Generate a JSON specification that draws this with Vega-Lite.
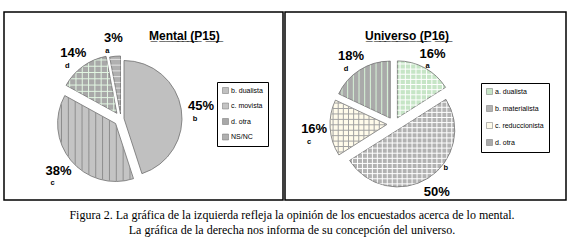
{
  "$schema": "https://vega.github.io/schema/vega-lite/v6.json",
  "background": "white",
  "padding": {"left": 3, "top": 11, "right": 0, "bottom": 0},
  "config": {"view": {"stroke": null}, "concat": {"spacing": 0}},
  "title": {
    "text": ["Figura 2. La gráfica de la izquierda refleja la opinión de los encuestados acerca de lo mental.", "La gráfica de la derecha nos informa de su concepción del universo."],
    "orient": "bottom", "anchor": "middle", "font": "Liberation Serif", "fontSize": 12, "dx": 7,
    "fontWeight": "normal", "lineHeight": 15, "offset": 2, "color": "black"
  },
  "resolve": {"scale": {"color": "independent", "theta": "independent"}, "legend": {"color": "independent"}},
  "hconcat": [
    {
      "width": 279, "height": 188,
      "view": {"stroke": "black", "strokeWidth": 1.5},
      "title": {"text": "M\u0332e\u0332n\u0332t\u0332a\u0332l\u0332 \u0332(\u0332P\u03321\u03325\u0332)\u0332", "anchor": "start", "dx": 145, "offset": -40, "baseline": "alphabetic",
        "font": "Liberation Sans", "fontSize": 12, "fontWeight": "bold", "color": "black"},
      "data": {"values": [
        {"k": "b. dualista", "lab": "b", "pct": 45, "txt": "45%", "o": 1},
        {"k": "c. movista", "lab": "c", "pct": 38, "txt": "38%", "o": 2},
        {"k": "d. otra", "lab": "d", "pct": 14, "txt": "14%", "o": 3},
        {"k": "NS/NC", "lab": "a", "pct": 3, "txt": "3%", "o": 4}
      ]},
      "transform": [{"stack": "pct", "groupby": [], "sort": [{"field": "o"}], "as": ["t0", "t1"]}],
      "layer": [
        {
          "transform": [{"filter": "datum.lab == 'b'"}],
          "mark": {"type": "arc", "radius": 58, "stroke": "#707070", "strokeWidth": 0.8, "xOffset": -19.5, "yOffset": 12.5},
          "encoding": {
            "theta": {"field": "t0", "type": "quantitative", "stack": null, "scale": {"domain": [0, 100]}},
            "theta2": {"field": "t1"},
            "color": {"field": "k", "type": "nominal",
              "scale": {"domain": ["b. dualista", "c. movista", "d. otra", "NS/NC"], "range": ["#c0c0c0", "#c4c4c4", "#a8a8a8", "#b0b0b0"]},
              "legend": {"orient": "none", "legendX": 213, "legendY": 70, "title": null, "strokeColor": "black",
                "padding": 5, "symbolType": "square", "symbolSize": 36, "symbolStrokeColor": "#777", "symbolStrokeWidth": 0.5,
                "labelFont": "Liberation Sans", "labelFontSize": 7, "labelColor": "black", "rowPadding": 6.5, "labelOffset": 2, "fillColor": "white"}}
          }
        },
        {
          "transform": [{"filter": "datum.lab == 'c'"}],
          "mark": {"type": "arc", "radius": 58, "stroke": "#707070", "strokeWidth": 0.8, "xOffset": -27.9, "yOffset": 17.5},
          "encoding": {
            "theta": {"field": "t0", "type": "quantitative", "stack": null},
            "theta2": {"field": "t1"},
            "color": {"field": "k", "type": "nominal"}
          }
        },
        {
          "transform": [{"filter": "datum.lab == 'd'"}],
          "mark": {"type": "arc", "radius": 58, "stroke": "#707070", "strokeWidth": 0.8, "xOffset": -26.6, "yOffset": 7.3},
          "encoding": {
            "theta": {"field": "t0", "type": "quantitative", "stack": null},
            "theta2": {"field": "t1"},
            "color": {"field": "k", "type": "nominal"}
          }
        },
        {
          "transform": [{"filter": "datum.lab == 'a'"}],
          "mark": {"type": "arc", "radius": 58, "stroke": "#707070", "strokeWidth": 0.8, "xOffset": -23, "yOffset": 8},
          "encoding": {
            "theta": {"field": "t0", "type": "quantitative", "stack": null},
            "theta2": {"field": "t1"},
            "color": {"field": "k", "type": "nominal"}
          }
        },
        {
          "transform": [{"filter": "datum.lab == 'c'"}],
          "mark": {"type": "arc", "radius": 57.5, "xOffset": -27.9, "yOffset": 17.5,
            "fill": {"gradient": "linear", "x1": 0, "y1": 0, "x2": 1, "y2": 0, "stops": [
              {"offset": 0.032, "color": "rgba(140,140,140,0)"}, {"offset": 0.045, "color": "#8c8c8c"}, {"offset": 0.058, "color": "rgba(140,140,140,0)"},
              {"offset": 0.123, "color": "rgba(140,140,140,0)"}, {"offset": 0.136, "color": "#8c8c8c"}, {"offset": 0.149, "color": "rgba(140,140,140,0)"},
              {"offset": 0.214, "color": "rgba(140,140,140,0)"}, {"offset": 0.227, "color": "#8c8c8c"}, {"offset": 0.240, "color": "rgba(140,140,140,0)"},
              {"offset": 0.305, "color": "rgba(140,140,140,0)"}, {"offset": 0.318, "color": "#8c8c8c"}, {"offset": 0.331, "color": "rgba(140,140,140,0)"},
              {"offset": 0.396, "color": "rgba(140,140,140,0)"}, {"offset": 0.409, "color": "#8c8c8c"}, {"offset": 0.422, "color": "rgba(140,140,140,0)"},
              {"offset": 0.487, "color": "rgba(140,140,140,0)"}, {"offset": 0.5, "color": "#8c8c8c"}, {"offset": 0.513, "color": "rgba(140,140,140,0)"},
              {"offset": 0.578, "color": "rgba(140,140,140,0)"}, {"offset": 0.591, "color": "#8c8c8c"}, {"offset": 0.604, "color": "rgba(140,140,140,0)"},
              {"offset": 0.669, "color": "rgba(140,140,140,0)"}, {"offset": 0.682, "color": "#8c8c8c"}, {"offset": 0.695, "color": "rgba(140,140,140,0)"},
              {"offset": 0.760, "color": "rgba(140,140,140,0)"}, {"offset": 0.773, "color": "#8c8c8c"}, {"offset": 0.786, "color": "rgba(140,140,140,0)"},
              {"offset": 0.851, "color": "rgba(140,140,140,0)"}, {"offset": 0.864, "color": "#8c8c8c"}, {"offset": 0.877, "color": "rgba(140,140,140,0)"},
              {"offset": 0.942, "color": "rgba(140,140,140,0)"}, {"offset": 0.955, "color": "#8c8c8c"}, {"offset": 0.968, "color": "rgba(140,140,140,0)"}
            ]}},
          "encoding": {"theta": {"field": "t0", "type": "quantitative", "stack": null}, "theta2": {"field": "t1"}}
        },
        {
          "transform": [{"filter": "datum.lab == 'd'"}],
          "mark": {"type": "arc", "radius": 57.5, "xOffset": -26.6, "yOffset": 7.3,
            "fill": {"gradient": "linear", "x1": 0, "y1": 0, "x2": 1, "y2": 0, "stops": [
              {"offset": 0.0425, "color": "rgba(226,246,226,0)"}, {"offset": 0.0625, "color": "#e2f6e2"}, {"offset": 0.0825, "color": "rgba(226,246,226,0)"},
              {"offset": 0.1675, "color": "rgba(226,246,226,0)"}, {"offset": 0.1875, "color": "#e2f6e2"}, {"offset": 0.2075, "color": "rgba(226,246,226,0)"},
              {"offset": 0.2925, "color": "rgba(226,246,226,0)"}, {"offset": 0.3125, "color": "#e2f6e2"}, {"offset": 0.3325, "color": "rgba(226,246,226,0)"},
              {"offset": 0.4175, "color": "rgba(226,246,226,0)"}, {"offset": 0.4375, "color": "#e2f6e2"}, {"offset": 0.4575, "color": "rgba(226,246,226,0)"},
              {"offset": 0.5425, "color": "rgba(226,246,226,0)"}, {"offset": 0.5625, "color": "#e2f6e2"}, {"offset": 0.5825, "color": "rgba(226,246,226,0)"},
              {"offset": 0.6675, "color": "rgba(226,246,226,0)"}, {"offset": 0.6875, "color": "#e2f6e2"}, {"offset": 0.7075, "color": "rgba(226,246,226,0)"},
              {"offset": 0.7925, "color": "rgba(226,246,226,0)"}, {"offset": 0.8125, "color": "#e2f6e2"}, {"offset": 0.8325, "color": "rgba(226,246,226,0)"},
              {"offset": 0.9175, "color": "rgba(226,246,226,0)"}, {"offset": 0.9375, "color": "#e2f6e2"}, {"offset": 0.9575, "color": "rgba(226,246,226,0)"}
            ]}},
          "encoding": {"theta": {"field": "t0", "type": "quantitative", "stack": null}, "theta2": {"field": "t1"}}
        },
        {
          "transform": [{"filter": "datum.lab == 'd'"}],
          "mark": {"type": "arc", "radius": 57.5, "xOffset": -26.6, "yOffset": 7.3,
            "fill": {"gradient": "linear", "x1": 0, "y1": 0, "x2": 0, "y2": 1, "stops": [
              {"offset": 0.038, "color": "rgba(226,246,226,0)"}, {"offset": 0.0556, "color": "#e2f6e2"}, {"offset": 0.073, "color": "rgba(226,246,226,0)"},
              {"offset": 0.149, "color": "rgba(226,246,226,0)"}, {"offset": 0.1667, "color": "#e2f6e2"}, {"offset": 0.184, "color": "rgba(226,246,226,0)"},
              {"offset": 0.260, "color": "rgba(226,246,226,0)"}, {"offset": 0.2778, "color": "#e2f6e2"}, {"offset": 0.295, "color": "rgba(226,246,226,0)"},
              {"offset": 0.371, "color": "rgba(226,246,226,0)"}, {"offset": 0.3889, "color": "#e2f6e2"}, {"offset": 0.406, "color": "rgba(226,246,226,0)"},
              {"offset": 0.4825, "color": "rgba(226,246,226,0)"}, {"offset": 0.5, "color": "#e2f6e2"}, {"offset": 0.5175, "color": "rgba(226,246,226,0)"},
              {"offset": 0.594, "color": "rgba(226,246,226,0)"}, {"offset": 0.6111, "color": "#e2f6e2"}, {"offset": 0.629, "color": "rgba(226,246,226,0)"},
              {"offset": 0.705, "color": "rgba(226,246,226,0)"}, {"offset": 0.7222, "color": "#e2f6e2"}, {"offset": 0.740, "color": "rgba(226,246,226,0)"},
              {"offset": 0.816, "color": "rgba(226,246,226,0)"}, {"offset": 0.8333, "color": "#e2f6e2"}, {"offset": 0.851, "color": "rgba(226,246,226,0)"},
              {"offset": 0.927, "color": "rgba(226,246,226,0)"}, {"offset": 0.9444, "color": "#e2f6e2"}, {"offset": 0.962, "color": "rgba(226,246,226,0)"}
            ]}},
          "encoding": {"theta": {"field": "t0", "type": "quantitative", "stack": null}, "theta2": {"field": "t1"}}
        },
        {
          "transform": [{"filter": "datum.lab == 'a'"}],
          "mark": {"type": "arc", "radius": 57.5, "xOffset": -23, "yOffset": 8,
            "fill": {"gradient": "linear", "x1": 0, "y1": 0, "x2": 0, "y2": 1, "stops": [
              {"offset": 0.033, "color": "rgba(228,228,228,0)"}, {"offset": 0.05, "color": "#e4e4e4"}, {"offset": 0.067, "color": "rgba(228,228,228,0)"},
              {"offset": 0.133, "color": "rgba(228,228,228,0)"}, {"offset": 0.15, "color": "#e4e4e4"}, {"offset": 0.167, "color": "rgba(228,228,228,0)"},
              {"offset": 0.233, "color": "rgba(228,228,228,0)"}, {"offset": 0.25, "color": "#e4e4e4"}, {"offset": 0.267, "color": "rgba(228,228,228,0)"},
              {"offset": 0.333, "color": "rgba(228,228,228,0)"}, {"offset": 0.35, "color": "#e4e4e4"}, {"offset": 0.367, "color": "rgba(228,228,228,0)"},
              {"offset": 0.433, "color": "rgba(228,228,228,0)"}, {"offset": 0.45, "color": "#e4e4e4"}, {"offset": 0.467, "color": "rgba(228,228,228,0)"},
              {"offset": 0.533, "color": "rgba(228,228,228,0)"}, {"offset": 0.55, "color": "#e4e4e4"}, {"offset": 0.567, "color": "rgba(228,228,228,0)"},
              {"offset": 0.633, "color": "rgba(228,228,228,0)"}, {"offset": 0.65, "color": "#e4e4e4"}, {"offset": 0.667, "color": "rgba(228,228,228,0)"},
              {"offset": 0.733, "color": "rgba(228,228,228,0)"}, {"offset": 0.75, "color": "#e4e4e4"}, {"offset": 0.767, "color": "rgba(228,228,228,0)"},
              {"offset": 0.833, "color": "rgba(228,228,228,0)"}, {"offset": 0.85, "color": "#e4e4e4"}, {"offset": 0.867, "color": "rgba(228,228,228,0)"},
              {"offset": 0.933, "color": "rgba(228,228,228,0)"}, {"offset": 0.95, "color": "#e4e4e4"}, {"offset": 0.967, "color": "rgba(228,228,228,0)"}
            ]}},
          "encoding": {"theta": {"field": "t0", "type": "quantitative", "stack": null}, "theta2": {"field": "t1"}}
        },
        {
          "mark": {"type": "text", "radius": 81, "xOffset": -22.5, "yOffset": 13, "font": "Liberation Sans", "fontSize": 13, "fontWeight": "bold", "color": "black"},
          "encoding": {
            "theta": {"field": "pct", "type": "quantitative", "stack": true},
            "order": {"field": "o", "type": "quantitative"},
            "detail": {"field": "k", "type": "nominal"},
            "text": {"field": "txt", "type": "nominal"}
          }
        },
        {
          "mark": {"type": "text", "radius": 81, "xOffset": -22.5, "yOffset": 13, "dx": -6, "dy": 12.5, "font": "Liberation Sans", "fontSize": 7.5, "fontWeight": "bold", "color": "black"},
          "encoding": {
            "theta": {"field": "pct", "type": "quantitative", "stack": true},
            "order": {"field": "o", "type": "quantitative"},
            "detail": {"field": "k", "type": "nominal"},
            "text": {"field": "lab", "type": "nominal"}
          }
        }
      ]
    },
    {
      "width": 281, "height": 188,
      "view": {"stroke": "black", "strokeWidth": 1.5},
      "title": {"text": "U\u0332n\u0332i\u0332v\u0332e\u0332r\u0332s\u0332o\u0332 \u0332(\u0332P\u03321\u03326\u0332)\u0332", "anchor": "start", "dx": 80, "offset": -40, "baseline": "alphabetic",
        "font": "Liberation Sans", "fontSize": 12, "fontWeight": "bold", "color": "black"},
      "data": {"values": [
        {"k": "a. dualista", "lab": "a", "pct": 16, "txt": "16%", "o": 1},
        {"k": "b. materialista", "lab": "b", "pct": 50, "txt": "50%", "o": 2},
        {"k": "c. reduccionista", "lab": "c", "pct": 16, "txt": "16%", "o": 3},
        {"k": "d. otra", "lab": "d", "pct": 18, "txt": "18%", "o": 4}
      ]},
      "transform": [{"stack": "pct", "groupby": [], "sort": [{"field": "o"}], "as": ["t0", "t1"]}],
      "layer": [
        {
          "transform": [{"filter": "datum.lab == 'a'"}],
          "mark": {"type": "arc", "radius": 57, "stroke": "#707070", "strokeWidth": 0.8, "xOffset": -28.1, "yOffset": 11.9},
          "encoding": {
            "theta": {"field": "t0", "type": "quantitative", "stack": null, "scale": {"domain": [0, 100]}},
            "theta2": {"field": "t1"},
            "color": {"field": "k", "type": "nominal",
              "scale": {"domain": ["a. dualista", "b. materialista", "c. reduccionista", "d. otra"], "range": ["#c6e5c6", "#b2b2b2", "#fffbea", "#aaaaaa"]},
              "legend": {"orient": "none", "legendX": 196, "legendY": 71, "title": null, "strokeColor": "black",
                "padding": 5, "symbolType": "square", "symbolSize": 36, "symbolStrokeColor": "#777", "symbolStrokeWidth": 0.5,
                "labelFont": "Liberation Sans", "labelFontSize": 7, "labelColor": "black", "rowPadding": 8, "labelOffset": 2, "fillColor": "white"}}
          }
        },
        {
          "transform": [{"filter": "datum.lab == 'b'"}],
          "mark": {"type": "arc", "radius": 57, "stroke": "#707070", "strokeWidth": 0.8, "xOffset": -27.75, "yOffset": 23.9},
          "encoding": {
            "theta": {"field": "t0", "type": "quantitative", "stack": null},
            "theta2": {"field": "t1"},
            "color": {"field": "k", "type": "nominal"}
          }
        },
        {
          "transform": [{"filter": "datum.lab == 'c'"}],
          "mark": {"type": "arc", "radius": 57, "stroke": "#707070", "strokeWidth": 0.8, "xOffset": -38.5, "yOffset": 18.4},
          "encoding": {
            "theta": {"field": "t0", "type": "quantitative", "stack": null},
            "theta2": {"field": "t1"},
            "color": {"field": "k", "type": "nominal"}
          }
        },
        {
          "transform": [{"filter": "datum.lab == 'd'"}],
          "mark": {"type": "arc", "radius": 57, "stroke": "#707070", "strokeWidth": 0.8, "xOffset": -35.25, "yOffset": 12.1},
          "encoding": {
            "theta": {"field": "t0", "type": "quantitative", "stack": null},
            "theta2": {"field": "t1"},
            "color": {"field": "k", "type": "nominal"}
          }
        },
        {
          "transform": [{"filter": "datum.lab == 'a'"}],
          "mark": {"type": "arc", "radius": 56.5, "xOffset": -28.1, "yOffset": 11.9,
            "fill": {"gradient": "linear", "x1": 0, "y1": 0, "x2": 1, "y2": 0, "stops": [
              {"offset": 0.035, "color": "rgba(255,255,255,0)"}, {"offset": 0.0556, "color": "#ffffff"}, {"offset": 0.077, "color": "rgba(255,255,255,0)"},
              {"offset": 0.146, "color": "rgba(255,255,255,0)"}, {"offset": 0.1667, "color": "#ffffff"}, {"offset": 0.188, "color": "rgba(255,255,255,0)"},
              {"offset": 0.257, "color": "rgba(255,255,255,0)"}, {"offset": 0.2778, "color": "#ffffff"}, {"offset": 0.299, "color": "rgba(255,255,255,0)"},
              {"offset": 0.368, "color": "rgba(255,255,255,0)"}, {"offset": 0.3889, "color": "#ffffff"}, {"offset": 0.410, "color": "rgba(255,255,255,0)"},
              {"offset": 0.479, "color": "rgba(255,255,255,0)"}, {"offset": 0.5, "color": "#ffffff"}, {"offset": 0.521, "color": "rgba(255,255,255,0)"},
              {"offset": 0.590, "color": "rgba(255,255,255,0)"}, {"offset": 0.6111, "color": "#ffffff"}, {"offset": 0.632, "color": "rgba(255,255,255,0)"},
              {"offset": 0.701, "color": "rgba(255,255,255,0)"}, {"offset": 0.7222, "color": "#ffffff"}, {"offset": 0.743, "color": "rgba(255,255,255,0)"},
              {"offset": 0.812, "color": "rgba(255,255,255,0)"}, {"offset": 0.8333, "color": "#ffffff"}, {"offset": 0.854, "color": "rgba(255,255,255,0)"},
              {"offset": 0.923, "color": "rgba(255,255,255,0)"}, {"offset": 0.9444, "color": "#ffffff"}, {"offset": 0.965, "color": "rgba(255,255,255,0)"}
            ]}},
          "encoding": {"theta": {"field": "t0", "type": "quantitative", "stack": null}, "theta2": {"field": "t1"}}
        },
        {
          "transform": [{"filter": "datum.lab == 'a'"}],
          "mark": {"type": "arc", "radius": 56.5, "xOffset": -28.1, "yOffset": 11.9,
            "fill": {"gradient": "linear", "x1": 0, "y1": 0, "x2": 0, "y2": 1, "stops": [
              {"offset": 0.028, "color": "rgba(255,255,255,0)"}, {"offset": 0.0455, "color": "#ffffff"}, {"offset": 0.063, "color": "rgba(255,255,255,0)"},
              {"offset": 0.119, "color": "rgba(255,255,255,0)"}, {"offset": 0.1364, "color": "#ffffff"}, {"offset": 0.154, "color": "rgba(255,255,255,0)"},
              {"offset": 0.210, "color": "rgba(255,255,255,0)"}, {"offset": 0.2273, "color": "#ffffff"}, {"offset": 0.245, "color": "rgba(255,255,255,0)"},
              {"offset": 0.301, "color": "rgba(255,255,255,0)"}, {"offset": 0.3182, "color": "#ffffff"}, {"offset": 0.336, "color": "rgba(255,255,255,0)"},
              {"offset": 0.392, "color": "rgba(255,255,255,0)"}, {"offset": 0.4091, "color": "#ffffff"}, {"offset": 0.427, "color": "rgba(255,255,255,0)"},
              {"offset": 0.4825, "color": "rgba(255,255,255,0)"}, {"offset": 0.5, "color": "#ffffff"}, {"offset": 0.5175, "color": "rgba(255,255,255,0)"},
              {"offset": 0.574, "color": "rgba(255,255,255,0)"}, {"offset": 0.5909, "color": "#ffffff"}, {"offset": 0.608, "color": "rgba(255,255,255,0)"},
              {"offset": 0.664, "color": "rgba(255,255,255,0)"}, {"offset": 0.6818, "color": "#ffffff"}, {"offset": 0.699, "color": "rgba(255,255,255,0)"},
              {"offset": 0.755, "color": "rgba(255,255,255,0)"}, {"offset": 0.7727, "color": "#ffffff"}, {"offset": 0.790, "color": "rgba(255,255,255,0)"},
              {"offset": 0.846, "color": "rgba(255,255,255,0)"}, {"offset": 0.8636, "color": "#ffffff"}, {"offset": 0.881, "color": "rgba(255,255,255,0)"},
              {"offset": 0.937, "color": "rgba(255,255,255,0)"}, {"offset": 0.9545, "color": "#ffffff"}, {"offset": 0.972, "color": "rgba(255,255,255,0)"}
            ]}},
          "encoding": {"theta": {"field": "t0", "type": "quantitative", "stack": null}, "theta2": {"field": "t1"}}
        },
        {
          "transform": [{"filter": "datum.lab == 'b'"}],
          "mark": {"type": "arc", "radius": 56.5, "xOffset": -27.75, "yOffset": 23.9,
            "fill": {"gradient": "linear", "x1": 0, "y1": 0, "x2": 1, "y2": 0, "stops": [
              {"offset": 0.0143, "color": "rgba(255,255,255,0)"}, {"offset": 0.0238, "color": "#ffffff"}, {"offset": 0.0333, "color": "rgba(255,255,255,0)"},
              {"offset": 0.0619, "color": "rgba(255,255,255,0)"}, {"offset": 0.0714, "color": "#ffffff"}, {"offset": 0.0809, "color": "rgba(255,255,255,0)"},
              {"offset": 0.1095, "color": "rgba(255,255,255,0)"}, {"offset": 0.119, "color": "#ffffff"}, {"offset": 0.1285, "color": "rgba(255,255,255,0)"},
              {"offset": 0.1572, "color": "rgba(255,255,255,0)"}, {"offset": 0.1667, "color": "#ffffff"}, {"offset": 0.1762, "color": "rgba(255,255,255,0)"},
              {"offset": 0.2048, "color": "rgba(255,255,255,0)"}, {"offset": 0.2143, "color": "#ffffff"}, {"offset": 0.2238, "color": "rgba(255,255,255,0)"},
              {"offset": 0.2524, "color": "rgba(255,255,255,0)"}, {"offset": 0.2619, "color": "#ffffff"}, {"offset": 0.2714, "color": "rgba(255,255,255,0)"},
              {"offset": 0.3, "color": "rgba(255,255,255,0)"}, {"offset": 0.3095, "color": "#ffffff"}, {"offset": 0.319, "color": "rgba(255,255,255,0)"},
              {"offset": 0.3476, "color": "rgba(255,255,255,0)"}, {"offset": 0.3571, "color": "#ffffff"}, {"offset": 0.3666, "color": "rgba(255,255,255,0)"},
              {"offset": 0.3953, "color": "rgba(255,255,255,0)"}, {"offset": 0.4048, "color": "#ffffff"}, {"offset": 0.4143, "color": "rgba(255,255,255,0)"},
              {"offset": 0.4429, "color": "rgba(255,255,255,0)"}, {"offset": 0.4524, "color": "#ffffff"}, {"offset": 0.4619, "color": "rgba(255,255,255,0)"},
              {"offset": 0.4905, "color": "rgba(255,255,255,0)"}, {"offset": 0.5, "color": "#ffffff"}, {"offset": 0.5095, "color": "rgba(255,255,255,0)"},
              {"offset": 0.5381, "color": "rgba(255,255,255,0)"}, {"offset": 0.5476, "color": "#ffffff"}, {"offset": 0.5571, "color": "rgba(255,255,255,0)"},
              {"offset": 0.5857, "color": "rgba(255,255,255,0)"}, {"offset": 0.5952, "color": "#ffffff"}, {"offset": 0.6047, "color": "rgba(255,255,255,0)"},
              {"offset": 0.6334, "color": "rgba(255,255,255,0)"}, {"offset": 0.6429, "color": "#ffffff"}, {"offset": 0.6524, "color": "rgba(255,255,255,0)"},
              {"offset": 0.681, "color": "rgba(255,255,255,0)"}, {"offset": 0.6905, "color": "#ffffff"}, {"offset": 0.7, "color": "rgba(255,255,255,0)"},
              {"offset": 0.7286, "color": "rgba(255,255,255,0)"}, {"offset": 0.7381, "color": "#ffffff"}, {"offset": 0.7476, "color": "rgba(255,255,255,0)"},
              {"offset": 0.7762, "color": "rgba(255,255,255,0)"}, {"offset": 0.7857, "color": "#ffffff"}, {"offset": 0.7952, "color": "rgba(255,255,255,0)"},
              {"offset": 0.8238, "color": "rgba(255,255,255,0)"}, {"offset": 0.8333, "color": "#ffffff"}, {"offset": 0.8428, "color": "rgba(255,255,255,0)"},
              {"offset": 0.8715, "color": "rgba(255,255,255,0)"}, {"offset": 0.881, "color": "#ffffff"}, {"offset": 0.8905, "color": "rgba(255,255,255,0)"},
              {"offset": 0.9191, "color": "rgba(255,255,255,0)"}, {"offset": 0.9286, "color": "#ffffff"}, {"offset": 0.9381, "color": "rgba(255,255,255,0)"},
              {"offset": 0.9667, "color": "rgba(255,255,255,0)"}, {"offset": 0.9762, "color": "#ffffff"}, {"offset": 0.9857, "color": "rgba(255,255,255,0)"}
            ]}},
          "encoding": {"theta": {"field": "t0", "type": "quantitative", "stack": null}, "theta2": {"field": "t1"}}
        },
        {
          "transform": [{"filter": "datum.lab == 'b'"}],
          "mark": {"type": "arc", "radius": 56.5, "xOffset": -27.75, "yOffset": 23.9,
            "fill": {"gradient": "linear", "x1": 0, "y1": 0, "x2": 0, "y2": 1, "stops": [
              {"offset": 0.018, "color": "rgba(255,255,255,0)"}, {"offset": 0.0294, "color": "#ffffff"}, {"offset": 0.0408, "color": "rgba(255,255,255,0)"},
              {"offset": 0.0768, "color": "rgba(255,255,255,0)"}, {"offset": 0.0882, "color": "#ffffff"}, {"offset": 0.0996, "color": "rgba(255,255,255,0)"},
              {"offset": 0.1357, "color": "rgba(255,255,255,0)"}, {"offset": 0.1471, "color": "#ffffff"}, {"offset": 0.1585, "color": "rgba(255,255,255,0)"},
              {"offset": 0.1945, "color": "rgba(255,255,255,0)"}, {"offset": 0.2059, "color": "#ffffff"}, {"offset": 0.2173, "color": "rgba(255,255,255,0)"},
              {"offset": 0.2533, "color": "rgba(255,255,255,0)"}, {"offset": 0.2647, "color": "#ffffff"}, {"offset": 0.2761, "color": "rgba(255,255,255,0)"},
              {"offset": 0.3121, "color": "rgba(255,255,255,0)"}, {"offset": 0.3235, "color": "#ffffff"}, {"offset": 0.3349, "color": "rgba(255,255,255,0)"},
              {"offset": 0.371, "color": "rgba(255,255,255,0)"}, {"offset": 0.3824, "color": "#ffffff"}, {"offset": 0.3938, "color": "rgba(255,255,255,0)"},
              {"offset": 0.4298, "color": "rgba(255,255,255,0)"}, {"offset": 0.4412, "color": "#ffffff"}, {"offset": 0.4526, "color": "rgba(255,255,255,0)"},
              {"offset": 0.4886, "color": "rgba(255,255,255,0)"}, {"offset": 0.5, "color": "#ffffff"}, {"offset": 0.5114, "color": "rgba(255,255,255,0)"},
              {"offset": 0.5474, "color": "rgba(255,255,255,0)"}, {"offset": 0.5588, "color": "#ffffff"}, {"offset": 0.5702, "color": "rgba(255,255,255,0)"},
              {"offset": 0.6062, "color": "rgba(255,255,255,0)"}, {"offset": 0.6176, "color": "#ffffff"}, {"offset": 0.629, "color": "rgba(255,255,255,0)"},
              {"offset": 0.6651, "color": "rgba(255,255,255,0)"}, {"offset": 0.6765, "color": "#ffffff"}, {"offset": 0.6879, "color": "rgba(255,255,255,0)"},
              {"offset": 0.7239, "color": "rgba(255,255,255,0)"}, {"offset": 0.7353, "color": "#ffffff"}, {"offset": 0.7467, "color": "rgba(255,255,255,0)"},
              {"offset": 0.7827, "color": "rgba(255,255,255,0)"}, {"offset": 0.7941, "color": "#ffffff"}, {"offset": 0.8055, "color": "rgba(255,255,255,0)"},
              {"offset": 0.8415, "color": "rgba(255,255,255,0)"}, {"offset": 0.8529, "color": "#ffffff"}, {"offset": 0.8643, "color": "rgba(255,255,255,0)"},
              {"offset": 0.9004, "color": "rgba(255,255,255,0)"}, {"offset": 0.9118, "color": "#ffffff"}, {"offset": 0.9232, "color": "rgba(255,255,255,0)"},
              {"offset": 0.9592, "color": "rgba(255,255,255,0)"}, {"offset": 0.9706, "color": "#ffffff"}, {"offset": 0.982, "color": "rgba(255,255,255,0)"}
            ]}},
          "encoding": {"theta": {"field": "t0", "type": "quantitative", "stack": null}, "theta2": {"field": "t1"}}
        },
        {
          "transform": [{"filter": "datum.lab == 'c'"}],
          "mark": {"type": "arc", "radius": 56.5, "xOffset": -38.5, "yOffset": 18.4,
            "fill": {"gradient": "linear", "x1": 0, "y1": 0, "x2": 1, "y2": 0, "stops": [
              {"offset": 0.028, "color": "rgba(160,160,160,0)"}, {"offset": 0.0455, "color": "#a0a0a0"}, {"offset": 0.063, "color": "rgba(160,160,160,0)"},
              {"offset": 0.119, "color": "rgba(160,160,160,0)"}, {"offset": 0.1364, "color": "#a0a0a0"}, {"offset": 0.154, "color": "rgba(160,160,160,0)"},
              {"offset": 0.210, "color": "rgba(160,160,160,0)"}, {"offset": 0.2273, "color": "#a0a0a0"}, {"offset": 0.245, "color": "rgba(160,160,160,0)"},
              {"offset": 0.301, "color": "rgba(160,160,160,0)"}, {"offset": 0.3182, "color": "#a0a0a0"}, {"offset": 0.336, "color": "rgba(160,160,160,0)"},
              {"offset": 0.392, "color": "rgba(160,160,160,0)"}, {"offset": 0.4091, "color": "#a0a0a0"}, {"offset": 0.427, "color": "rgba(160,160,160,0)"},
              {"offset": 0.4825, "color": "rgba(160,160,160,0)"}, {"offset": 0.5, "color": "#a0a0a0"}, {"offset": 0.5175, "color": "rgba(160,160,160,0)"},
              {"offset": 0.574, "color": "rgba(160,160,160,0)"}, {"offset": 0.5909, "color": "#a0a0a0"}, {"offset": 0.608, "color": "rgba(160,160,160,0)"},
              {"offset": 0.664, "color": "rgba(160,160,160,0)"}, {"offset": 0.6818, "color": "#a0a0a0"}, {"offset": 0.699, "color": "rgba(160,160,160,0)"},
              {"offset": 0.755, "color": "rgba(160,160,160,0)"}, {"offset": 0.7727, "color": "#a0a0a0"}, {"offset": 0.790, "color": "rgba(160,160,160,0)"},
              {"offset": 0.846, "color": "rgba(160,160,160,0)"}, {"offset": 0.8636, "color": "#a0a0a0"}, {"offset": 0.881, "color": "rgba(160,160,160,0)"},
              {"offset": 0.937, "color": "rgba(160,160,160,0)"}, {"offset": 0.9545, "color": "#a0a0a0"}, {"offset": 0.972, "color": "rgba(160,160,160,0)"}
            ]}},
          "encoding": {"theta": {"field": "t0", "type": "quantitative", "stack": null}, "theta2": {"field": "t1"}}
        },
        {
          "transform": [{"filter": "datum.lab == 'c'"}],
          "mark": {"type": "arc", "radius": 56.5, "xOffset": -38.5, "yOffset": 18.4,
            "fill": {"gradient": "linear", "x1": 0, "y1": 0, "x2": 0, "y2": 1, "stops": [
              {"offset": 0.032, "color": "rgba(160,160,160,0)"}, {"offset": 0.05, "color": "#a0a0a0"}, {"offset": 0.068, "color": "rgba(160,160,160,0)"},
              {"offset": 0.132, "color": "rgba(160,160,160,0)"}, {"offset": 0.15, "color": "#a0a0a0"}, {"offset": 0.168, "color": "rgba(160,160,160,0)"},
              {"offset": 0.232, "color": "rgba(160,160,160,0)"}, {"offset": 0.25, "color": "#a0a0a0"}, {"offset": 0.268, "color": "rgba(160,160,160,0)"},
              {"offset": 0.332, "color": "rgba(160,160,160,0)"}, {"offset": 0.35, "color": "#a0a0a0"}, {"offset": 0.368, "color": "rgba(160,160,160,0)"},
              {"offset": 0.432, "color": "rgba(160,160,160,0)"}, {"offset": 0.45, "color": "#a0a0a0"}, {"offset": 0.468, "color": "rgba(160,160,160,0)"},
              {"offset": 0.532, "color": "rgba(160,160,160,0)"}, {"offset": 0.55, "color": "#a0a0a0"}, {"offset": 0.568, "color": "rgba(160,160,160,0)"},
              {"offset": 0.632, "color": "rgba(160,160,160,0)"}, {"offset": 0.65, "color": "#a0a0a0"}, {"offset": 0.668, "color": "rgba(160,160,160,0)"},
              {"offset": 0.732, "color": "rgba(160,160,160,0)"}, {"offset": 0.75, "color": "#a0a0a0"}, {"offset": 0.768, "color": "rgba(160,160,160,0)"},
              {"offset": 0.832, "color": "rgba(160,160,160,0)"}, {"offset": 0.85, "color": "#a0a0a0"}, {"offset": 0.868, "color": "rgba(160,160,160,0)"},
              {"offset": 0.932, "color": "rgba(160,160,160,0)"}, {"offset": 0.95, "color": "#a0a0a0"}, {"offset": 0.968, "color": "rgba(160,160,160,0)"}
            ]}},
          "encoding": {"theta": {"field": "t0", "type": "quantitative", "stack": null}, "theta2": {"field": "t1"}}
        },
        {
          "transform": [{"filter": "datum.lab == 'd'"}],
          "mark": {"type": "arc", "radius": 56.5, "xOffset": -35.25, "yOffset": 12.1,
            "fill": {"gradient": "linear", "x1": 0, "y1": 0, "x2": 1, "y2": 0, "stops": [
              {"offset": 0.037, "color": "rgba(216,245,216,0)"}, {"offset": 0.0556, "color": "#d8f5d8"}, {"offset": 0.075, "color": "rgba(216,245,216,0)"},
              {"offset": 0.148, "color": "rgba(216,245,216,0)"}, {"offset": 0.1667, "color": "#d8f5d8"}, {"offset": 0.186, "color": "rgba(216,245,216,0)"},
              {"offset": 0.259, "color": "rgba(216,245,216,0)"}, {"offset": 0.2778, "color": "#d8f5d8"}, {"offset": 0.297, "color": "rgba(216,245,216,0)"},
              {"offset": 0.370, "color": "rgba(216,245,216,0)"}, {"offset": 0.3889, "color": "#d8f5d8"}, {"offset": 0.408, "color": "rgba(216,245,216,0)"},
              {"offset": 0.481, "color": "rgba(216,245,216,0)"}, {"offset": 0.5, "color": "#d8f5d8"}, {"offset": 0.519, "color": "rgba(216,245,216,0)"},
              {"offset": 0.592, "color": "rgba(216,245,216,0)"}, {"offset": 0.6111, "color": "#d8f5d8"}, {"offset": 0.630, "color": "rgba(216,245,216,0)"},
              {"offset": 0.703, "color": "rgba(216,245,216,0)"}, {"offset": 0.7222, "color": "#d8f5d8"}, {"offset": 0.741, "color": "rgba(216,245,216,0)"},
              {"offset": 0.814, "color": "rgba(216,245,216,0)"}, {"offset": 0.8333, "color": "#d8f5d8"}, {"offset": 0.853, "color": "rgba(216,245,216,0)"},
              {"offset": 0.925, "color": "rgba(216,245,216,0)"}, {"offset": 0.9444, "color": "#d8f5d8"}, {"offset": 0.963, "color": "rgba(216,245,216,0)"}
            ]}},
          "encoding": {"theta": {"field": "t0", "type": "quantitative", "stack": null}, "theta2": {"field": "t1"}}
        },
        {
          "mark": {"type": "text", "radius": 80, "xOffset": -31.5, "yOffset": 18, "font": "Liberation Sans", "fontSize": 13, "fontWeight": "bold", "color": "black"},
          "encoding": {
            "theta": {"field": "pct", "type": "quantitative", "stack": true},
            "order": {"field": "o", "type": "quantitative"},
            "detail": {"field": "k", "type": "nominal"},
            "text": {"field": "txt", "type": "nominal"}
          }
        },
        {
          "mark": {"type": "text", "radius": 80, "xOffset": -31.5, "yOffset": 18, "dx": -5, "dy": 12.5, "font": "Liberation Sans", "fontSize": 7.5, "fontWeight": "bold", "color": "black"},
          "encoding": {
            "theta": {"field": "pct", "type": "quantitative", "stack": true},
            "order": {"field": "o", "type": "quantitative"},
            "detail": {"field": "k", "type": "nominal"},
            "text": {"field": "lab", "type": "nominal"},
            "opacity": {"condition": {"test": "datum.lab == 'b'", "value": 0}, "value": 1}
          }
        },
        {
          "mark": {"type": "text", "radius": 80, "xOffset": -31.5, "yOffset": 18, "dx": 9, "dy": -24, "font": "Liberation Sans", "fontSize": 7.5, "fontWeight": "bold", "color": "black"},
          "encoding": {
            "theta": {"field": "pct", "type": "quantitative", "stack": true},
            "order": {"field": "o", "type": "quantitative"},
            "detail": {"field": "k", "type": "nominal"},
            "text": {"field": "lab", "type": "nominal"},
            "opacity": {"condition": {"test": "datum.lab == 'b'", "value": 1}, "value": 0}
          }
        }
      ]
    }
  ]
}
